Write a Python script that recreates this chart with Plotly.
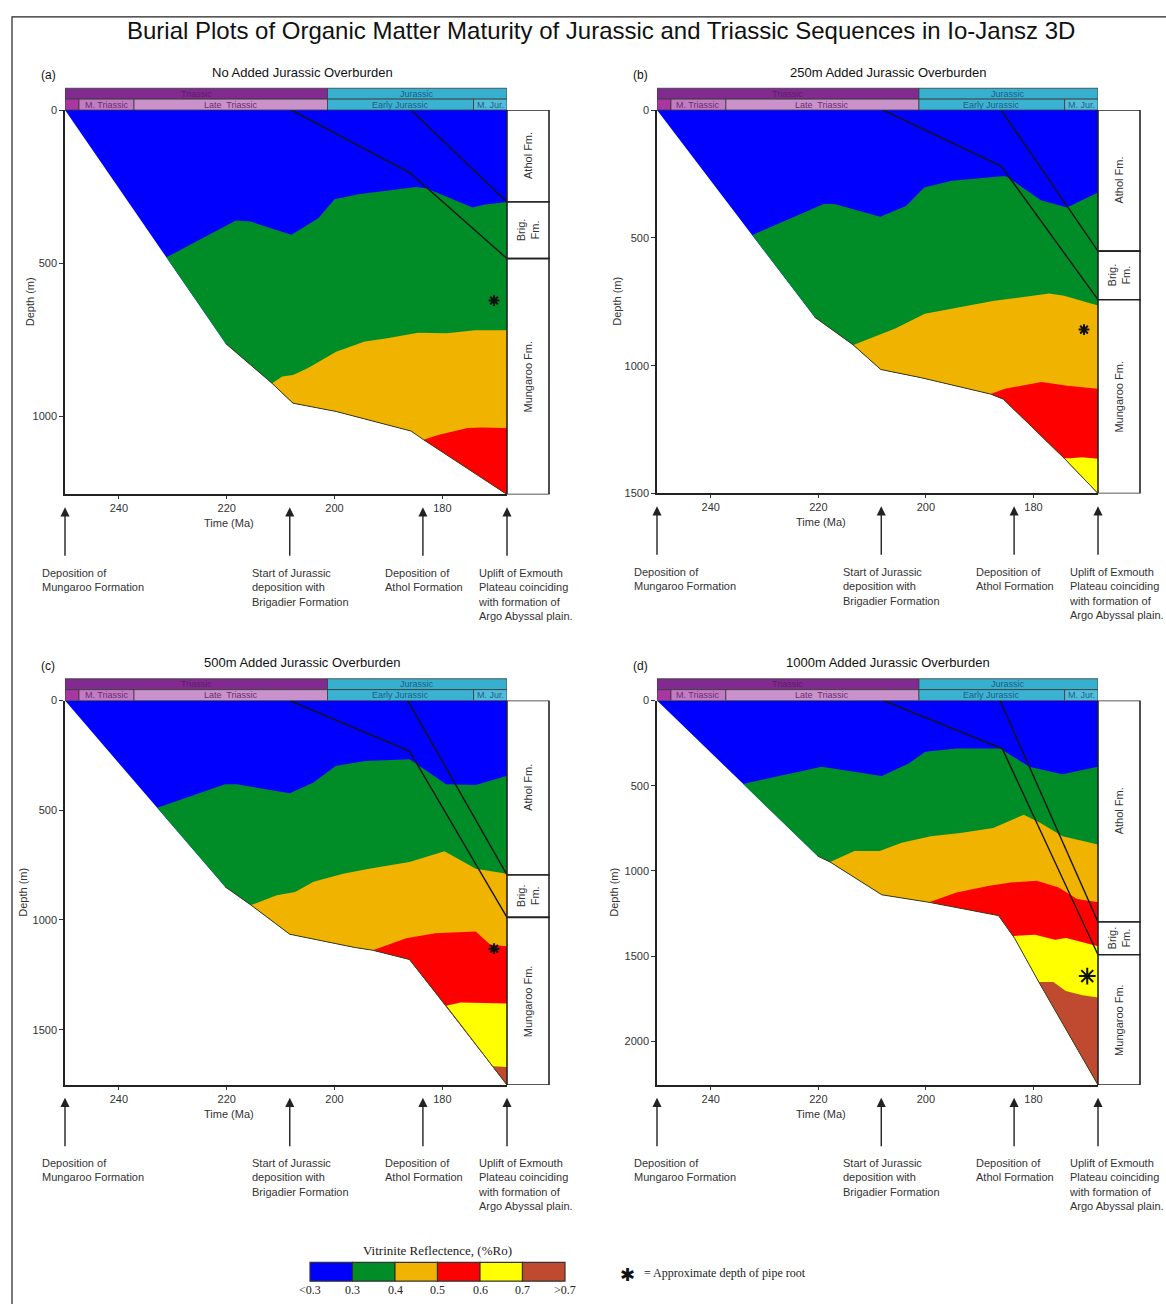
import plotly.graph_objects as go

W, H = 1166, 1304
T_LEFT, T_RIGHT = 250, 168

# ---------------- data ----------------
MAT_LABELS = ["<0.3", "0.3", "0.4", "0.5", "0.6", "0.7", ">0.7"]
MAT_COLORS = ["#0000ff", "#008c26", "#f0b400", "#ff0000", "#ffff00", "#bf4a2f"]

PERIODS = ["Triassic", "Jurassic"]
PERIOD_START = [250, 201.3]
PERIOD_END = [201.3, 168]
PERIOD_FILL = ["#812b91", "#37b0cf"]
PERIOD_TEXT = ["#5b1d66", "#1f5d8a"]

EPOCHS = ["", "M. Triassic", "Late  Triassic", "Early Jurassic", "M. Jur."]
EPOCH_START = [250, 247.4, 237.2, 201.3, 174.2]
EPOCH_END = [247.4, 237.2, 201.3, 174.2, 168]
EPOCH_FILL = ["#a8389f", "#c27cc4", "#c992cb", "#3cb2d2", "#52bdd9"]
EPOCH_TEXT = ["#5b1d66", "#6a2c70", "#6a2c70", "#1f5d8a", "#1f5d8a"]

FORMATIONS = ["Athol Fm.", "Brig.<br>Fm.", "Mungaroo Fm."]

PANEL_LABELS = ["(a)", "(b)", "(c)", "(d)"]
PANEL_TITLES = ["No Added Jurassic Overburden", "250m Added Jurassic Overburden",
                "500m Added Jurassic Overburden", "1000m Added Jurassic Overburden"]
Y_MAX = [1255, 1500, 1752, 2256]
Y_TICKS = [[0, 500, 1000], [0, 500, 1000, 1500], [0, 500, 1000, 1500], [0, 500, 1000, 1500, 2000]]
X_TICKS = [240, 220, 200, 180]

# formation depth boundaries (top of Athol, base Athol, base Brigadier, base Mungaroo)
A_FM = [0, 300, 485, 1255]
B_FM = [0, 552, 742, 1500]
C_FM = [0, 795, 988, 1752]
D_FM = [0, 1300, 1492, 2256]

# ---- panel (a) ----
A_BASE_T = [250, 220.2, 211.6, 207.7, 199.7, 185.8, 183.5, 168]
A_BASE_D = [0, 762, 892, 957, 984, 1048, 1076, 1255]
A_B1_T = [231.2, 218.3, 215.6, 208.0, 203.0, 200.0, 195.6, 184.9, 183.0, 174.4, 172, 168]
A_B1_D = [481, 361, 364, 407, 353, 291, 275, 251, 255, 318, 308, 300]
A_B2_T = [211.6, 209.7, 207.7, 205.0, 199.7, 194.4, 190.5, 184.5, 179.2, 173.9, 168]
A_B2_D = [892, 870, 865, 843, 789, 756, 746, 727, 729, 719, 719]
A_B3_T = [183.5, 180.6, 175.3, 172.6, 168]
A_B3_D = [1076, 1060, 1038, 1036, 1038]
A_L1_T = [208, 186, 168]
A_L1_D = [0, 205, 485]
A_L2_T = [185.8, 168]
A_L2_D = [0, 300]
A_STAR = [170.4, 622]

# ---- panel (b) ----
B_BASE_T = [250, 220.7, 213.5, 208.4, 200.9, 188, 185.6, 174.3, 168]
B_BASE_D = [0, 810, 919, 1015, 1047, 1111, 1131, 1362, 1500]
B_B1_T = [232.3, 219.0, 217.0, 208.5, 203.7, 200.3, 195.2, 185.4, 184.7, 178.6, 173.8, 168]
B_B1_D = [489, 368, 368, 417, 375, 303, 277, 258, 264, 353, 381, 323]
B_B2_T = [213.5, 208.4, 205.7, 200.2, 194.1, 187.3, 177.1, 174.3, 168]
B_B2_D = [919, 878, 855, 797, 772, 746, 718, 727, 765]
B_B3_T = [188, 185.3, 178.5, 173.7, 168]
B_B3_D = [1111, 1090, 1064, 1079, 1090]
B_B4_T = [174.3, 173, 171, 168]
B_B4_D = [1362, 1362, 1358, 1364]
B_L1_T = [208, 186, 168]
B_L1_D = [0, 219, 742]
B_L2_T = [186, 168]
B_L2_D = [0, 552]
B_STAR = [170.6, 859]

# ---- panel (c) ----
C_BASE_T = [250, 220.3, 215.5, 208.3, 196.3, 192.9, 186.1, 179.3, 170.7, 168]
C_BASE_D = [0, 849, 932, 1065, 1125, 1138, 1180, 1391, 1667, 1752]
C_B1_T = [232.9, 220.3, 218.2, 208.3, 203.9, 199.8, 194.3, 186.1, 179.3, 173.8, 168]
C_B1_D = [489, 381, 381, 423, 373, 298, 275, 267, 381, 385, 343]
C_B2_T = [215.5, 210.7, 207.3, 203.9, 198.4, 193.6, 186.1, 179.6, 173.8, 168]
C_B2_D = [932, 887, 872, 826, 789, 766, 736, 687, 766, 789]
C_B3_T = [192.9, 186.7, 181.3, 173.8, 171.1, 168]
C_B3_D = [1138, 1083, 1060, 1053, 1113, 1120]
C_B4_T = [179.3, 176.6, 168]
C_B4_D = [1391, 1376, 1381]
C_B5_T = [170.7, 168]
C_B5_D = [1667, 1670]
C_L1_T = [208.3, 186.1, 168]
C_L1_D = [0, 230, 988]
C_L2_T = [186.4, 168]
C_L2_D = [0, 795]
C_STAR = [170.4, 1131]

# ---- panel (d) ----
D_BASE_T = [250, 220.1, 217.8, 208.2, 199.4, 186.5, 183.5, 179, 168]
D_BASE_D = [0, 913, 948, 1140, 1184, 1262, 1395, 1652, 2256]
D_B1_T = [234, 219.4, 208.2, 203.2, 200.1, 194.3, 186.2, 180.8, 174.6, 168]
D_B1_D = [489, 388, 443, 369, 301, 282, 282, 388, 433, 388]
D_B2_T = [217.8, 213.3, 208.6, 204.5, 199.1, 193.6, 187.5, 181.8, 178.7, 174.6, 168]
D_B2_D = [948, 883, 883, 835, 796, 777, 748, 670, 718, 796, 845]
D_B3_T = [199.4, 194.3, 188.2, 184.2, 179.4, 175.3, 171.9, 168]
D_B3_D = [1184, 1126, 1087, 1068, 1058, 1097, 1165, 1184]
D_B4_T = [183.8, 179.7, 176, 173.9, 168]
D_B4_D = [1382, 1374, 1403, 1393, 1442]
D_B5_T = [179, 176.3, 174, 170.9, 168]
D_B5_D = [1652, 1652, 1704, 1729, 1743]
D_L1_T = [207.9, 185.8, 168]
D_L1_D = [0, 282, 1492]
D_L2_T = [186.2, 168]
D_L2_D = [0, 1300]
D_STAR = [170, 1617]

ARROW_T = [250, 208.3, 183.6, 168]
ARROW_TEXT = ["Deposition of<br>Mungaroo Formation",
              "Start of Jurassic<br>deposition with<br>Brigadier Formation",
              "Deposition of<br>Athol Formation",
              "Uplift of Exmouth<br>Plateau coinciding<br>with formation of<br>Argo Abyssal plain."]
ARROW_SHIFT = [-25, -40, -40, -31]

PANELS = [
    dict(base=(A_BASE_T, A_BASE_D), bounds=[(A_B1_T, A_B1_D), (A_B2_T, A_B2_D), (A_B3_T, A_B3_D)],
         lines=[(A_L1_T, A_L1_D), (A_L2_T, A_L2_D)], star=A_STAR, fm=A_FM, star_size=9),
    dict(base=(B_BASE_T, B_BASE_D), bounds=[(B_B1_T, B_B1_D), (B_B2_T, B_B2_D), (B_B3_T, B_B3_D), (B_B4_T, B_B4_D)],
         lines=[(B_L1_T, B_L1_D), (B_L2_T, B_L2_D)], star=B_STAR, fm=B_FM, star_size=9),
    dict(base=(C_BASE_T, C_BASE_D), bounds=[(C_B1_T, C_B1_D), (C_B2_T, C_B2_D), (C_B3_T, C_B3_D), (C_B4_T, C_B4_D), (C_B5_T, C_B5_D)],
         lines=[(C_L1_T, C_L1_D), (C_L2_T, C_L2_D)], star=C_STAR, fm=C_FM, star_size=9),
    dict(base=(D_BASE_T, D_BASE_D), bounds=[(D_B1_T, D_B1_D), (D_B2_T, D_B2_D), (D_B3_T, D_B3_D), (D_B4_T, D_B4_D), (D_B5_T, D_B5_D)],
         lines=[(D_L1_T, D_L1_D), (D_L2_T, D_L2_D)], star=D_STAR, fm=D_FM, star_size=14),
]

# ---------------- layout geometry (pixels) ----------------
PX_BOX = [(65, 507, 105, 493), (657, 1098, 105, 492), (65, 507, 701, 1089), (657, 1098, 701, 1089)]
DEPTH_TITLE_X = [30, 617, 23, 614]
COL_W = 42  # stratigraphic column width in px


def px(x):
    return x / W


def py(y):
    return 1 - y / H


SANS = "Liberation Sans, Arial, sans-serif"
SERIF = "Liberation Serif, Times New Roman, serif"

fig = go.Figure()
shapes = []
annots = []
layout_axes = {}


def ann(**kw):
    d = dict(showarrow=False, xanchor="center", yanchor="middle")
    d.update(kw)
    annots.append(d)


def below_region(bt, bd, base_t, base_d):
    t0 = bt[0]
    xs = list(bt) + [base_t[-1]]
    ys = list(bd) + [base_d[-1]]
    rest = [(t, d) for t, d in zip(base_t, base_d) if base_t[-1] < t < t0]
    for t, d in reversed(rest):
        xs.append(t)
        ys.append(d)
    xs.append(bt[0])
    ys.append(bd[0])
    return xs, ys


for i, p in enumerate(PANELS):
    n = "" if i == 0 else str(i + 1)
    xr, yr = "x" + n, "y" + n
    x0p, x1p, y0p, y1p = PX_BOX[i]
    hpx = y1p - y0p
    wpx = x1p - x0p
    ymax = Y_MAX[i]
    base_t, base_d = p["base"]

    # blue (whole section)
    xs = [base_t[0], T_RIGHT] + list(reversed(base_t))
    ys = [0, 0] + list(reversed(base_d))
    fig.add_trace(go.Scatter(x=xs, y=ys, xaxis=xr, yaxis=yr, mode="lines", fill="toself",
                             fillcolor=MAT_COLORS[0], line=dict(width=0, color=MAT_COLORS[0]),
                             hoverinfo="skip", showlegend=False))
    for k, (bt, bd) in enumerate(p["bounds"]):
        xs, ys = below_region(bt, bd, base_t, base_d)
        fig.add_trace(go.Scatter(x=xs, y=ys, xaxis=xr, yaxis=yr, mode="lines", fill="toself",
                                 fillcolor=MAT_COLORS[k + 1], line=dict(width=0, color=MAT_COLORS[k + 1]),
                                 hoverinfo="skip", showlegend=False))
    # base outline
    fig.add_trace(go.Scatter(x=base_t[1:], y=base_d[1:], xaxis=xr, yaxis=yr, mode="lines",
                             line=dict(width=1, color="#3b3b22"), hoverinfo="skip", showlegend=False))
    # formation burial lines
    for lt, ld in p["lines"]:
        fig.add_trace(go.Scatter(x=lt, y=ld, xaxis=xr, yaxis=yr, mode="lines",
                                 line=dict(width=1.4, color="#141414"), hoverinfo="skip", showlegend=False))
    # pipe root
    fig.add_trace(go.Scatter(x=[p["star"][0]], y=[p["star"][1]], xaxis=xr, yaxis=yr, mode="markers",
                             marker=dict(symbol="asterisk-open", size=p["star_size"], color="#111",
                                         line=dict(width=2, color="#111")),
                             hoverinfo="skip", showlegend=False))

    layout_axes["xaxis" + n] = dict(domain=[px(x0p), px(x1p)], range=[T_LEFT, T_RIGHT], anchor=yr,
                                    tickvals=X_TICKS, ticks="outside", ticklen=3, tickwidth=1,
                                    tickcolor="#333", showline=True, linecolor="#222", linewidth=1.5,
                                    showgrid=False, zeroline=False,
                                    tickfont=dict(size=11, color="#333", family=SANS))
    layout_axes["yaxis" + n] = dict(domain=[py(y1p), py(y0p)], range=[ymax, 0], anchor=xr,
                                    tickvals=Y_TICKS[i], ticks="outside", ticklen=4, tickwidth=1,
                                    tickcolor="#333", showline=True, linecolor="#222", linewidth=1.5,
                                    showgrid=False, zeroline=False,
                                    tickfont=dict(size=11, color="#333", family=SANS))

    # header rows
    r = 11 / hpx
    for name, s, e, fc, tc in zip(PERIODS, PERIOD_START, PERIOD_END, PERIOD_FILL, PERIOD_TEXT):
        shapes.append(dict(type="rect", xref=xr, yref=yr + " domain", x0=s, x1=e, y0=1 + r, y1=1 + 2 * r,
                           fillcolor=fc, line=dict(color="#3a3a3a", width=0.8), layer="above"))
        ann(x=(s + e) / 2, y=1 + 1.5 * r, xref=xr, yref=yr + " domain", text=name,
            font=dict(size=9, color=tc, family=SANS))
    for name, s, e, fc, tc in zip(EPOCHS, EPOCH_START, EPOCH_END, EPOCH_FILL, EPOCH_TEXT):
        shapes.append(dict(type="rect", xref=xr, yref=yr + " domain", x0=s, x1=e, y0=1, y1=1 + r,
                           fillcolor=fc, line=dict(color="#3a3a3a", width=0.8), layer="above"))
        if name:
            ann(x=(s + e) / 2, y=1 + 0.5 * r, xref=xr, yref=yr + " domain", text=name,
                font=dict(size=9, color=tc, family=SANS))

    # stratigraphic column
    cw = COL_W / wpx
    fm = p["fm"]
    for k, name in enumerate(FORMATIONS):
        shapes.append(dict(type="rect", xref=xr + " domain", yref=yr, x0=1, x1=1 + cw,
                           y0=fm[k], y1=fm[k + 1], fillcolor="white",
                           line=dict(color="#222", width=1.6), layer="above"))
        ann(x=1 + cw / 2, y=(fm[k] + fm[k + 1]) / 2, xref=xr + " domain", yref=yr,
            text=name, textangle=-90, font=dict(size=11, color="#333", family=SANS))

    # titles
    ann(x=px(x0p + 237 + (0 if i % 2 == 0 else -6)), y=py(y0p - 38), xref="paper", yref="paper",
        text=PANEL_TITLES[i], font=dict(size=13, color="#111", family=SANS))
    ann(x=px(x0p - 17), y=py(y0p - 35), xref="paper", yref="paper", text=PANEL_LABELS[i],
        font=dict(size=12, color="#111", family=SANS))
    ann(x=219.5, y=-29 / hpx, xref=xr, yref=yr + " domain", text="Time (Ma)",
        font=dict(size=11, color="#333", family=SANS))
    ann(x=px(DEPTH_TITLE_X[i]), y=0.5, xref="paper", yref=yr + " domain", text="Depth (m)",
        textangle=-90, font=dict(size=11, color="#333", family=SANS))

    # event arrows and captions
    for t, txt, sh in zip(ARROW_T, ARROW_TEXT, ARROW_SHIFT):
        annots.append(dict(x=t, y=-13 / hpx, xref=xr, yref=yr + " domain", text="", showarrow=True,
                           ax=0, ay=50, arrowhead=2, arrowsize=1.3, arrowwidth=1.4,
                           arrowcolor="#222", standoff=0, startstandoff=0))
        ann(x=t, y=-71 / hpx, xref=xr, yref=yr + " domain", text=txt,
            xanchor="left", yanchor="top", xshift=sh, align="left",
            font=dict(size=11, color="#333", family=SANS))

# main title
ann(x=px(601), y=py(25), xref="paper", yref="paper",
    text="Burial Plots of Organic Matter Maturity of Jurassic and Triassic Sequences in Io-Jansz 3D",
    font=dict(size=24, color="#111", family=SANS))

# outer frame (left & top visible)
shapes.append(dict(type="rect", xref="paper", yref="paper", x0=px(12), x1=px(1180), y0=py(1320), y1=py(11),
                   line=dict(color="#222", width=1.2), fillcolor="rgba(0,0,0,0)", layer="above"))

# maturity legend
LEG_X0, LEG_X1, LEG_Y0, LEG_Y1 = 310, 565, 1268, 1287
bw = (LEG_X1 - LEG_X0) / len(MAT_COLORS)
for k, c in enumerate(MAT_COLORS):
    shapes.append(dict(type="rect", xref="paper", yref="paper",
                       x0=px(LEG_X0 + k * bw), x1=px(LEG_X0 + (k + 1) * bw),
                       y0=py(LEG_Y1), y1=py(LEG_Y0), fillcolor=c,
                       line=dict(color="#333", width=1.2)))
for k, lab in enumerate(MAT_LABELS):
    ann(x=px(LEG_X0 + k * bw), y=py(1296), xref="paper", yref="paper", text=lab,
        font=dict(size=12, color="#222", family=SERIF))
ann(x=px((LEG_X0 + LEG_X1) / 2), y=py(1256), xref="paper", yref="paper",
    text="Vitrinite Reflectence, (%Ro)", font=dict(size=13, color="#222", family=SERIF))
ann(x=px(627), y=py(1280), xref="paper", yref="paper", text="✱",
    font=dict(size=18, color="#111", family="DejaVu Sans"))
ann(x=px(642), y=py(1279), xref="paper", yref="paper", xanchor="left",
    text="= Approximate depth of pipe root", font=dict(size=12, color="#222", family=SERIF))

fig.update_layout(width=W, height=H, margin=dict(l=0, r=0, t=0, b=0),
                  paper_bgcolor="white", plot_bgcolor="white", showlegend=False,
                  font=dict(family=SANS), shapes=shapes, annotations=annots, **layout_axes)

fig.write_html("out.html", config={"displayModeBar": False},
               post_script="document.body.style.margin='0px';")
